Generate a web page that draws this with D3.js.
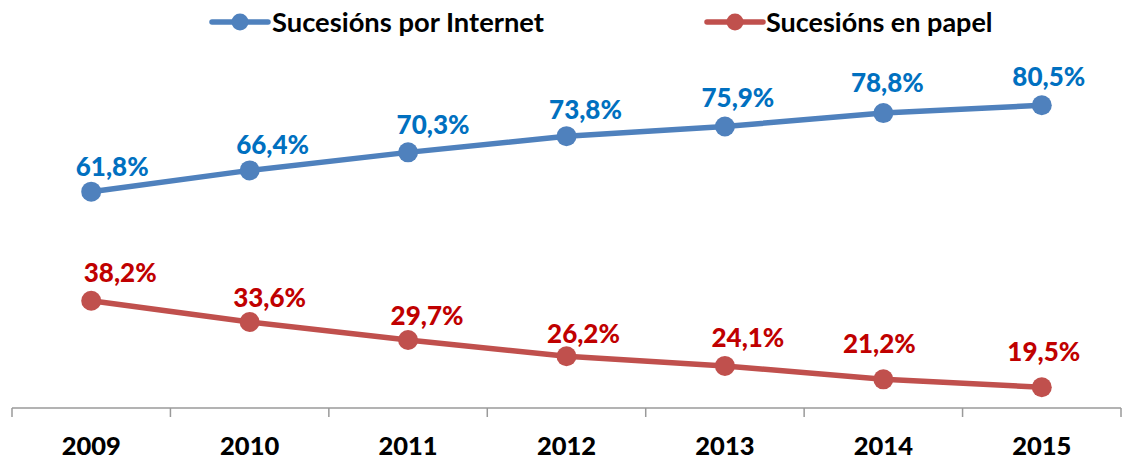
<!DOCTYPE html>
<html>
<head>
<meta charset="utf-8">
<script src="https://cdn.jsdelivr.net/npm/d3@7/dist/d3.min.js"></script>
<style>
  html, body { margin: 0; padding: 0; background: #fff; }
  svg { display: block; }
  text { font-family: Lato, "Open Sans", sans-serif; font-weight: 700; }
</style>
</head>
<body>
<svg id="chart" width="1124" height="461"></svg>
<script>
// ---- data ----
const years = ["2009", "2010", "2011", "2012", "2013", "2014", "2015"];
const internet = [61.8, 66.4, 70.3, 73.8, 75.9, 78.8, 80.5];
const papel = [38.2, 33.6, 29.7, 26.2, 24.1, 21.2, 19.5];
const seriesNames = ["Sucesións por Internet", "Sucesións en papel"];

// ---- label nudges (layout only) ----
const internetLabelDx = [21, 23, 25, 19, 13, 4, 7];
const internetLabelDy = [-16, -16, -18, -17, -19, -21, -19];
const papelLabelDx = [29, 20, 19, 17, 23, -4, 2];
const papelLabelDy = [-19, -15, -15, -13, -19, -26, -26];

const svg = d3.select("#chart");

const x = d3.scaleBand().domain(years).range([12, 1121]).padding(0);
const y = d3.scaleLinear().domain([15, 90]).range([408, 61.3]);
const cx = d => x(d) + x.bandwidth() / 2;

const fmt = v => d3.format(".1f")(v).replace(".", ",") + "%";

// axis
const axisG = svg.append("g").attr("transform", "translate(0,408)");
axisG.append("line").attr("x1", 12).attr("x2", 1121).attr("y1", 0).attr("y2", 0)
  .attr("stroke", "#9a9a9a").attr("stroke-width", 1.5);
const tickPos = years.map(d => x(d)).concat([x(years[years.length - 1]) + x.bandwidth()]);
axisG.selectAll("line.tick").data(tickPos).enter().append("line")
  .attr("class", "tick")
  .attr("x1", d => d).attr("x2", d => d).attr("y1", 0).attr("y2", 9)
  .attr("stroke", "#9a9a9a").attr("stroke-width", 1.5);
svg.append("g").selectAll("text").data(years).enter().append("text")
  .attr("x", d => cx(d)).attr("y", 455)
  .attr("text-anchor", "middle").attr("font-size", 25.5).attr("fill", "#000")
  .style("font-weight", 900)
  .text(d => d);

const series = [
  { name: seriesNames[0], values: internet, line: "#4F81BD", label: "#0070C0", dx: internetLabelDx, dy: internetLabelDy },
  { name: seriesNames[1], values: papel, line: "#C0504D", label: "#C00000", dx: papelLabelDx, dy: papelLabelDy }
];

const lineGen = d3.line().x((d, i) => cx(years[i])).y(d => y(d));

series.forEach(s => {
  const g = svg.append("g");
  g.append("path").datum(s.values).attr("d", lineGen)
    .attr("fill", "none").attr("stroke", s.line).attr("stroke-width", 5.5)
    .attr("stroke-linejoin", "round");
  g.selectAll("circle").data(s.values).enter().append("circle")
    .attr("cx", (d, i) => cx(years[i])).attr("cy", d => y(d)).attr("r", 10)
    .attr("fill", s.line);
  g.selectAll("text").data(s.values).enter().append("text")
    .attr("x", (d, i) => cx(years[i]) + s.dx[i])
    .attr("y", (d, i) => y(d) + s.dy[i])
    .attr("text-anchor", "middle").attr("font-size", 26).attr("fill", s.label)
    .style("font-weight", 900)
    .text(d => fmt(d));
});

// legend
const legendItems = [
  { s: series[0], x0: 212, textX: 272, textW: 272 },
  { s: series[1], x0: 707, textX: 766, textW: 227 }
];
legendItems.forEach(it => {
  const g = svg.append("g");
  g.append("line").attr("x1", it.x0).attr("x2", it.x0 + 56).attr("y1", 22).attr("y2", 22)
    .attr("stroke", it.s.line).attr("stroke-width", 5.5).attr("stroke-linecap", "round");
  g.append("circle").attr("cx", it.x0 + 28).attr("cy", 22).attr("r", 8.5).attr("fill", it.s.line);
  const t = g.append("text").attr("x", it.textX).attr("y", 32)
    .attr("font-size", 27).attr("fill", "#000").text(it.s.name);
  const w = t.node().getComputedTextLength();
  if (Math.abs(w - it.textW) > 3) {
    t.attr("textLength", it.textW).attr("lengthAdjust", "spacingAndGlyphs");
  }
});
</script>
</body>
</html>
